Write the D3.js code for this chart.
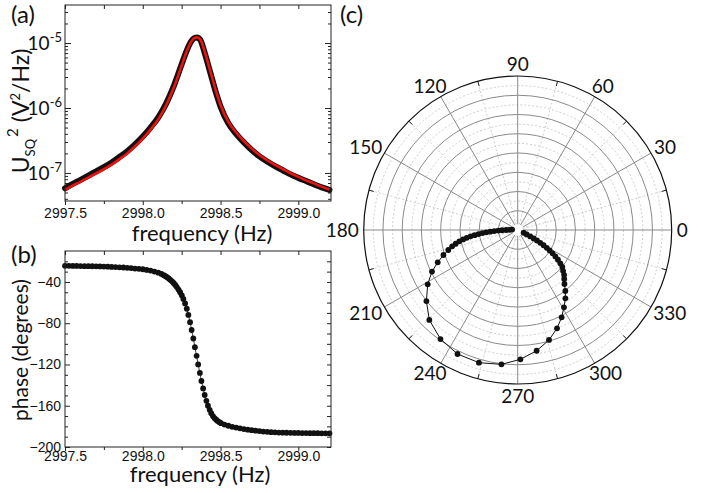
<!DOCTYPE html>
<html>
<head>
<meta charset="utf-8">
<script src="https://cdn.jsdelivr.net/npm/d3@7"></script>
<style>
  body { margin: 0; background: #fff; }
  svg { font-family: Lato, "Open Sans", sans-serif; }
</style>
</head>
<body>
<svg id="fig" width="706" height="493"></svg>
<script>
// ---- values ----

// (a) power spectral density, V^2/Hz
const psdFreq = [2997.50, 2997.55, 2997.60, 2997.65, 2997.70, 2997.75, 2997.80, 2997.85, 2997.90, 2997.95,
  2998.00, 2998.05, 2998.10, 2998.15, 2998.20, 2998.25, 2998.28, 2998.31, 2998.33, 2998.35,
  2998.37, 2998.40, 2998.43, 2998.47, 2998.50, 2998.55, 2998.60, 2998.65, 2998.70, 2998.75,
  2998.80, 2998.85, 2998.90, 2998.95, 2999.00, 2999.05, 2999.10, 2999.15, 2999.20];
const psdData = [5.8e-8, 6.8e-8, 7.85e-8, 9.1e-8, 1.06e-7, 1.23e-7, 1.45e-7, 1.76e-7, 2.16e-7, 2.75e-7,
  3.63e-7, 5.0e-7, 7.2e-7, 1.17e-6, 2.19e-6, 4.7e-6, 7.4e-6, 1.05e-5, 1.19e-5, 1.22e-5,
  1.12e-5, 6.8e-6, 3.8e-6, 1.74e-6, 1.05e-6, 5.8e-7, 4.0e-7, 2.95e-7, 2.26e-7, 1.80e-7,
  1.50e-7, 1.27e-7, 1.10e-7, 9.5e-8, 8.4e-8, 7.5e-8, 6.7e-8, 6.0e-8, 5.5e-8];
const psdFit = [5.5e-8, 6.4e-8, 7.3e-8, 8.5e-8, 9.8e-8, 1.14e-7, 1.34e-7, 1.63e-7, 2.0e-7, 2.55e-7,
  3.38e-7, 4.65e-7, 6.75e-7, 1.1e-6, 2.08e-6, 4.5e-6, 7.2e-6, 1.03e-5, 1.19e-5, 1.22e-5,
  1.13e-5, 7.1e-6, 4.0e-6, 1.84e-6, 1.11e-6, 6.1e-7, 4.2e-7, 3.1e-7, 2.37e-7, 1.89e-7,
  1.57e-7, 1.33e-7, 1.15e-7, 9.9e-8, 8.7e-8, 7.7e-8, 6.9e-8, 6.15e-8, 5.55e-8];

// (b) phase, degrees
const phaseFreq = [2997.500, 2997.525, 2997.550, 2997.575, 2997.600, 2997.625, 2997.650, 2997.675, 2997.700, 2997.725,
  2997.750, 2997.775, 2997.800, 2997.825, 2997.850, 2997.875, 2997.900, 2997.925, 2997.950, 2997.975,
  2998.000, 2998.025, 2998.050, 2998.075, 2998.100, 2998.120, 2998.135, 2998.146, 2998.156, 2998.167,
  2998.177, 2998.188, 2998.198, 2998.209, 2998.219, 2998.230, 2998.240, 2998.251, 2998.261, 2998.272,
  2998.283, 2998.293, 2998.304, 2998.314, 2998.325, 2998.335, 2998.346, 2998.356, 2998.367, 2998.377,
  2998.388, 2998.398, 2998.409, 2998.419, 2998.430, 2998.440, 2998.451, 2998.461, 2998.472, 2998.482,
  2998.493, 2998.503, 2998.525, 2998.550, 2998.575, 2998.600, 2998.625, 2998.650, 2998.675, 2998.700,
  2998.725, 2998.750, 2998.775, 2998.800, 2998.825, 2998.850, 2998.875, 2998.900, 2998.925, 2998.950,
  2998.975, 2999.000, 2999.025, 2999.050, 2999.075, 2999.100, 2999.125, 2999.150, 2999.175, 2999.200];
const phaseDeg = [-24.4, -24.4, -24.5, -24.5, -24.6, -24.7, -24.7, -24.8, -24.9, -25.0,
  -25.1, -25.2, -25.4, -25.6, -25.8, -26.0, -26.3, -26.6, -27.0, -27.3,
  -27.7, -28.3, -29.0, -29.9, -31.0, -32.2, -33.4, -34.4, -35.4, -36.6,
  -37.9, -39.4, -41.0, -42.9, -45.0, -47.4, -50.0, -53.0, -56.5, -60.8,
  -66.0, -72.0, -79.0, -86.6, -94.8, -103.2, -111.6, -120.0, -128.2, -136.0,
  -143.2, -149.6, -155.2, -160.0, -164.0, -167.3, -170.0, -172.0, -173.6, -174.9,
  -176.0, -176.9, -178.3, -179.4, -180.4, -181.2, -181.9, -182.6, -183.2, -183.7,
  -184.2, -184.6, -185.0, -185.3, -185.6, -185.8, -186.0, -186.1, -186.2, -186.3,
  -186.4, -186.4, -186.5, -186.5, -186.6, -186.6, -186.6, -186.7, -186.7, -186.7];

// (c) polar: phase angle (deg) and amplitude (grid units)
const polarDeg = [-25, -26, -27, -27.8, -28.6, -29.5, -30.5, -31.5, -32.6, -33.8, -35, -36.5, -38, -39.7, -42, -44, -46.5,
  -49.1, -52.0, -55.1, -59.1, -63.3, -68.2, -74.1, -81.1, -88.8, -96.9, -106.3, -115.9, -125.3, -134.5, -142.1, -148.9, -154.1, -158.0, -161.4, -163.9,
  -166, -167.5, -169, -170.2, -171.3, -172.3, -173.2, -174.1, -175, -175.8, -176.6, -177.4, -178.2, -179, -180, -181.5, -184];
const polarAmp = [0.34, 0.52, 0.73, 0.94, 1.14, 1.35, 1.56, 1.77, 1.97, 2.18, 2.39, 2.60, 2.81, 3.01, 3.17, 3.35, 3.51,
  3.71, 4.02, 4.33, 4.68, 5.08, 5.50, 5.94, 6.35, 6.72, 7.03, 7.18, 7.16, 6.94, 6.55, 6.01, 5.46, 4.95, 4.48, 4.07, 3.75,
  3.51, 3.30, 3.09, 2.88, 2.68, 2.47, 2.26, 2.05, 1.84, 1.64, 1.43, 1.22, 1.01, 0.81, 0.60, 0.42, 0.29];

// ticks
const freqTicks = [2997.5, 2998.0, 2998.5, 2999.0];
const freqMinor = [2997.75, 2998.25, 2998.75];
const psdTicks = [1e-7, 1e-6, 1e-5];
const psdExp = ["-7", "-6", "-5"];
const phaseTicks = [-200, -160, -120, -80, -40];
const angleTicks = [0, 30, 60, 90, 120, 150, 180, 210, 240, 270, 300, 330];
const ringValues = [1, 2, 3, 4, 5, 6, 7, 8];

const svg = d3.select("#fig");
const grid = "#8a8a8a", lightGrid = "#c2c2c2";

function cleanAxis(g) {
  g.select(".domain").remove();
  g.selectAll(".tick line").attr("stroke", "#222");
  g.selectAll(".tick text").attr("fill", "#111");
}

function freqAxes(g, x, yTop, yBot, pad) {
  g.append("g").attr("transform", `translate(0,${yBot})`)
    .call(d3.axisBottom(x).tickValues(freqTicks).tickSize(4).tickPadding(pad).tickFormat(d3.format(".1f")))
    .call(cleanAxis)
    .selectAll("text").style("font-size", "14px");
  g.append("g").attr("transform", `translate(0,${yBot})`)
    .call(d3.axisBottom(x).tickValues(freqMinor).tickSize(3).tickFormat(""))
    .call(cleanAxis);
  g.append("g").attr("transform", `translate(0,${yTop})`)
    .call(d3.axisTop(x).tickValues(freqTicks.concat(freqMinor)).tickSize(-4).tickFormat(""))
    .call(cleanAxis);
}

function frame(g, x, y) {
  g.append("rect")
    .attr("x", x.range()[0]).attr("y", y.range()[1])
    .attr("width", x.range()[1] - x.range()[0])
    .attr("height", y.range()[0] - y.range()[1])
    .attr("fill", "none").attr("stroke", "#222").attr("stroke-width", 1);
}

// ================= (a) =================
const xA = d3.scaleLinear().domain([2997.5, 2999.21]).range([65, 331]);
const yA = d3.scaleLog().domain([3.7e-8, 3.85e-5]).range([201, 5]);
const gA = svg.append("g");

const psdMinor = yA.ticks().filter(v => !psdTicks.some(t => Math.abs(t - v) / t < 1e-6));
[[d3.axisLeft, 65], [d3.axisRight, 331]].forEach(([ax, xp]) => {
  gA.append("g").attr("transform", `translate(${xp},0)`)
    .call(ax(yA).tickValues(psdTicks).tickSize(-6).tickFormat("")).call(cleanAxis);
  gA.append("g").attr("transform", `translate(${xp},0)`)
    .call(ax(yA).tickValues(psdMinor).tickSize(-3).tickFormat("")).call(cleanAxis);
});
freqAxes(gA, xA, 5, 201, 3);

const psdRows = d3.zip(psdFreq, psdData, psdFit);
gA.append("path").datum(psdRows)
  .attr("fill", "none").attr("stroke", "#111").attr("stroke-width", 6)
  .attr("stroke-linecap", "round").attr("stroke-linejoin", "round")
  .attr("d", d3.line().curve(d3.curveMonotoneX).x(d => xA(d[0])).y(d => yA(d[1])));
gA.append("path").datum(psdRows)
  .attr("fill", "none").attr("stroke", "#ee1111").attr("stroke-width", 2.6)
  .attr("d", d3.line().curve(d3.curveMonotoneX).x(d => xA(d[0])).y(d => yA(d[2])));
frame(gA, xA, yA);

// log labels 10^n
psdTicks.forEach((v, i) => {
  const t = gA.append("text").attr("x", 62).attr("y", yA(v) + 7)
    .attr("text-anchor", "end").style("font-size", "19px").attr("fill", "#111");
  t.append("tspan").text("10");
  t.append("tspan").attr("dy", -8).style("font-size", "13px").text(psdExp[i]);
});

const ylabA = gA.append("text").attr("transform", "translate(29,111) rotate(-90)")
  .attr("text-anchor", "middle").style("font-size", "23px").attr("fill", "#111");
ylabA.append("tspan").text("U");
ylabA.append("tspan").attr("dy", 6).style("font-size", "13px").text("SQ");
ylabA.append("tspan").attr("dy", -17).attr("dx", 2).style("font-size", "15px").text("2");
ylabA.append("tspan").attr("dy", 11).text(" (V");
ylabA.append("tspan").attr("dy", -9).style("font-size", "13px").text("2");
ylabA.append("tspan").attr("dy", 9).text("/Hz)");

gA.append("text").attr("x", 202).attr("y", 241).attr("text-anchor", "middle")
  .style("font-size", "22px").attr("fill", "#111").text("frequency (Hz)");

// ================= (b) =================
const xB = d3.scaleLinear().domain([2997.5, 2999.21]).range([65, 331]);
const yB = d3.scaleLinear().domain([-200, -10]).range([447, 251]);
const gB = svg.append("g");

const phaseMinor = d3.range(-190, -10, 10).filter(v => !phaseTicks.includes(v));
gB.append("g").attr("transform", "translate(65,0)")
  .call(d3.axisLeft(yB).tickValues(phaseTicks).tickSize(-5).tickPadding(4))
  .call(cleanAxis).selectAll("text").style("font-size", "14px");
gB.append("g").attr("transform", "translate(65,0)")
  .call(d3.axisLeft(yB).tickValues(phaseMinor).tickSize(-3).tickFormat("")).call(cleanAxis);
gB.append("g").attr("transform", "translate(331,0)")
  .call(d3.axisRight(yB).tickValues(phaseTicks.concat(phaseMinor)).tickSize(-4).tickFormat("")).call(cleanAxis);
freqAxes(gB, xB, 251, 447, 0);

const phaseRows = d3.zip(phaseFreq, phaseDeg);
gB.append("path").datum(phaseRows)
  .attr("fill", "none").attr("stroke", "#111").attr("stroke-width", 0.8)
  .attr("d", d3.line().x(d => xB(d[0])).y(d => yB(d[1])));
gB.selectAll("circle.pt").data(phaseRows).enter().append("circle")
  .attr("class", "pt").attr("cx", d => xB(d[0])).attr("cy", d => yB(d[1]))
  .attr("r", 2.9).attr("fill", "#111");
frame(gB, xB, yB);

gB.append("text").attr("transform", "translate(28,350) rotate(-90)").attr("text-anchor", "middle")
  .style("font-size", "21px").attr("fill", "#111").text("phase (degrees)");
gB.append("text").attr("x", 200).attr("y", 482).attr("text-anchor", "middle")
  .style("font-size", "22px").attr("fill", "#111").text("frequency (Hz)");

// ================= (c) =================
const R = 154;
const rC = d3.scaleLinear().domain([0, 8]).range([0, R]);
const gC = svg.append("g").attr("transform", "translate(517.7,230)");
const rad = deg => (90 - deg) * Math.PI / 180; // d3 radial angle from compass

// dashed half rings
gC.selectAll("circle.half").data(ringValues.map(v => v - 0.5)).enter().append("circle")
  .attr("r", d => rC(d)).attr("fill", "none").attr("stroke", lightGrid)
  .attr("stroke-width", 0.8).attr("stroke-dasharray", "2,2");
// dashed spokes at odd multiples of 15
angleTicks.forEach(a => {
  const p0 = d3.pointRadial(rad(a + 15), rC(0.3)), p1 = d3.pointRadial(rad(a + 15), R);
  gC.append("line").attr("x1", p0[0]).attr("y1", p0[1]).attr("x2", p1[0]).attr("y2", p1[1])
    .attr("stroke", lightGrid).attr("stroke-width", 0.8).attr("stroke-dasharray", "2,2");
  const q0 = d3.pointRadial(rad(a + 15), R - 5);
  gC.append("line").attr("x1", q0[0]).attr("y1", q0[1]).attr("x2", p1[0]).attr("y2", p1[1])
    .attr("stroke", "#222").attr("stroke-width", 1);
});
// solid rings
gC.selectAll("circle.ring").data(ringValues.slice(0, -1)).enter().append("circle")
  .attr("r", d => rC(d)).attr("fill", "none").attr("stroke", grid).attr("stroke-width", 1);
// solid spokes
angleTicks.forEach(a => {
  const p0 = d3.pointRadial(rad(a), rC(0.3)), p1 = d3.pointRadial(rad(a), R);
  gC.append("line").attr("x1", p0[0]).attr("y1", p0[1]).attr("x2", p1[0]).attr("y2", p1[1])
    .attr("stroke", grid).attr("stroke-width", 1);
});
gC.append("circle").attr("r", R).attr("fill", "none").attr("stroke", "#111").attr("stroke-width", 1.2);

// angle labels
angleTicks.forEach(a => {
  const fs = 19;
  const t = gC.append("text").attr("text-anchor", "middle").style("font-size", fs + "px")
    .attr("fill", "#111").text(a);
  const w = t.node().getBBox().width, h = 0.72 * fs;
  const th = a * Math.PI / 180, c = Math.cos(th), s = Math.sin(th);
  const gap = 5;
  const cx = (R + gap) * c + (w / 2) * c;
  const cy = -(R + gap) * s - (h / 2) * s;
  t.attr("x", cx).attr("y", cy + h / 2);
});

const polarRows = d3.zip(polarDeg, polarAmp);
gC.append("path").datum(polarRows)
  .attr("fill", "none").attr("stroke", "#111").attr("stroke-width", 1)
  .attr("d", d3.lineRadial().angle(d => rad(d[0])).radius(d => rC(d[1])));
gC.selectAll("circle.pt").data(polarRows).enter().append("circle")
  .attr("class", "pt")
  .attr("cx", d => d3.pointRadial(rad(d[0]), rC(d[1]))[0])
  .attr("cy", d => d3.pointRadial(rad(d[0]), rC(d[1]))[1])
  .attr("r", 2.9).attr("fill", "#111");

// panel letters
[["(a)", 11, 23], ["(b)", 11, 263], ["(c)", 340, 23]].forEach(([s, x, y]) => {
  svg.append("text").attr("x", x).attr("y", y).style("font-size", "24px").attr("fill", "#111").text(s);
});
</script>
</body>
</html>
